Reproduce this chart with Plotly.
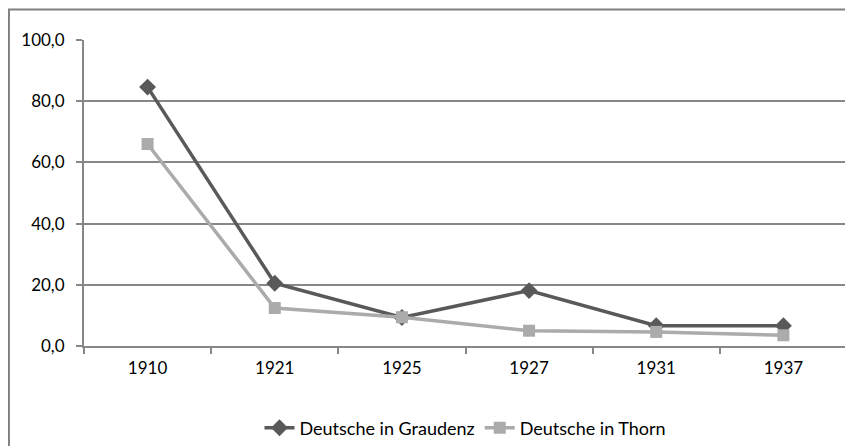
import plotly.graph_objects as go

years = ["1910", "1921", "1925", "1927", "1931", "1937"]
graudenz = [84.6, 20.5, 9.3, 18.1, 6.6, 6.6]
thorn = [66.0, 12.4, 9.4, 5.0, 4.6, 3.5]
y_ticks = [0, 20, 40, 60, 80, 100]
y_labels = ["0,0", "20,0", "40,0", "60,0", "80,0", "100,0"]

FONT = "Lato"
grid = "#878787"

fig = go.Figure()
fig.add_trace(go.Scatter(
    x=years, y=graudenz, name="Deutsche in Graudenz", mode="lines+markers",
    line=dict(color="#595959", width=3.5),
    marker=dict(symbol="diamond", size=13, color="#595959"),
))
fig.add_trace(go.Scatter(
    x=years, y=thorn, name="Deutsche in Thorn", mode="lines+markers",
    line=dict(color="#ababab", width=3.5),
    marker=dict(symbol="square", size=12, color="#ababab"),
))

# page body has an 8px margin, so figure coordinates are offset by 8px
fig.update_layout(
    width=853, height=446,
    margin=dict(l=76, r=14, t=32, b=108, autoexpand=False),
    paper_bgcolor="white", plot_bgcolor="white",
    font=dict(family=FONT, size=17, color="#000000"),
    showlegend=True,
    legend=dict(orientation="h", x=0.5, xanchor="center", y=-0.268, yanchor="middle",
                font=dict(family=FONT, size=18), itemwidth=30, traceorder="normal"),
    shapes=[dict(type="rect", xref="paper", yref="paper",
                 x0=-0.0984, x1=1.03, y0=-0.4, y1=1.1,
                 line=dict(color="#7f7f7f", width=2), layer="below")],
)
fig.update_xaxes(
    type="category", range=[-0.5, len(years) - 0.5],
    showgrid=False, showline=True, linecolor=grid, linewidth=2,
    ticks="outside", tickson="boundaries", ticklen=6, tickcolor=grid, tickwidth=2,
    tickfont=dict(family=FONT, size=17), zeroline=False, automargin=False,
    ticklabelstandoff=6,
)
fig.update_yaxes(
    range=[0, 100], tickvals=y_ticks, ticktext=y_labels,
    showgrid=True, gridcolor=grid, gridwidth=2, showline=True, linecolor=grid, linewidth=2,
    ticks="outside", ticklen=6, tickcolor=grid, tickwidth=2, zeroline=False,
    tickfont=dict(family=FONT, size=17), automargin=False, ticklabelstandoff=8,
)

fig.write_html("out.html")
